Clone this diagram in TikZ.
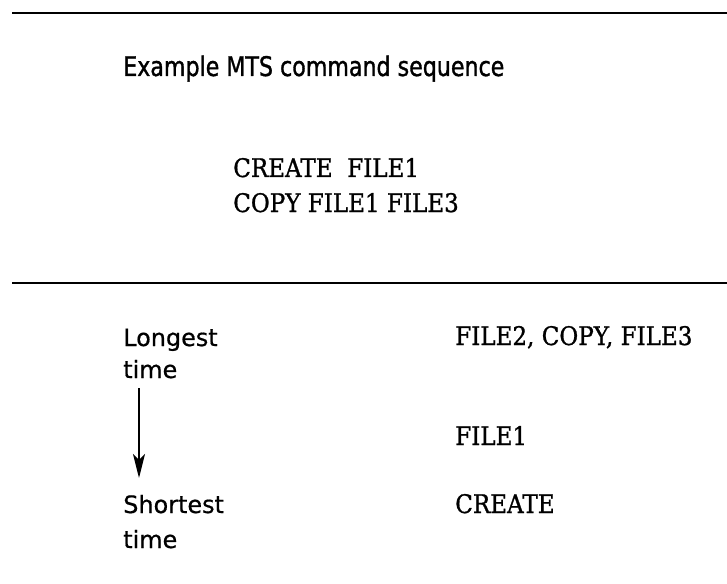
\documentclass[tikz,border=0pt]{standalone}
\usepackage{fontspec}
\usetikzlibrary{arrows.meta}
\newfontfamily\headfont[FakeStretch=0.82, FakeBold=1.2]{DejaVu Sans}
\newfontfamily\codefont[FakeStretch=0.9, FakeBold=1]{DejaVu Serif}
\newfontfamily\notefont[FakeBold=0.6]{DejaVu Sans}
\tikzset{
  headtext/.style={anchor=base west, inner sep=0pt,
    font=\headfont\fontsize{19.2}{23}\selectfont},
  codetext/.style={anchor=base west, inner sep=0pt,
    font=\codefont\fontsize{18.2}{21}\selectfont},
  notetext/.style={anchor=base west, inner sep=0pt,
    font=\notefont\fontsize{17}{20}\selectfont},
  rule/.style={line width=1.8pt},
  timearrow/.style={line width=1.6pt, -{Stealth[length=17pt, width=8.5pt, inset=4pt]}}
}
\begin{document}
\begin{tikzpicture}[x=0.025cm, y=-0.025cm]
  \useasboundingbox (0,0) rectangle (727,583);
  % upper panel
  \draw[rule] (12,13) -- (727,13);
  \node[headtext] (title) at (123,76) {Example MTS command sequence};
  \node[codetext] (cmdone) at (233,177) {CREATE~~FILE1};
  \node[codetext] (cmdtwo) at (233,212) {COPY FILE1 FILE3};
  \draw[rule] (12,283) -- (727,283);
  % lower panel
  \node[notetext] (longest) at (123,346) {Longest};
  \node[notetext] (longtime) at (123,378) {time};
  \node[notetext] (shortest) at (123,513) {Shortest};
  \node[notetext] (shorttime) at (123,548) {time};
  \coordinate (arrtop) at (139,388);
  \coordinate (arrbot) at (139,478);
  \draw[timearrow] (arrtop) -- (arrbot);
  \node[codetext] (slow) at (455,345) {FILE2, COPY, FILE3};
  \node[codetext] (mid) at (455,445) {FILE1};
  \node[codetext] (fast) at (455,513) {CREATE};
\end{tikzpicture}
\end{document}
